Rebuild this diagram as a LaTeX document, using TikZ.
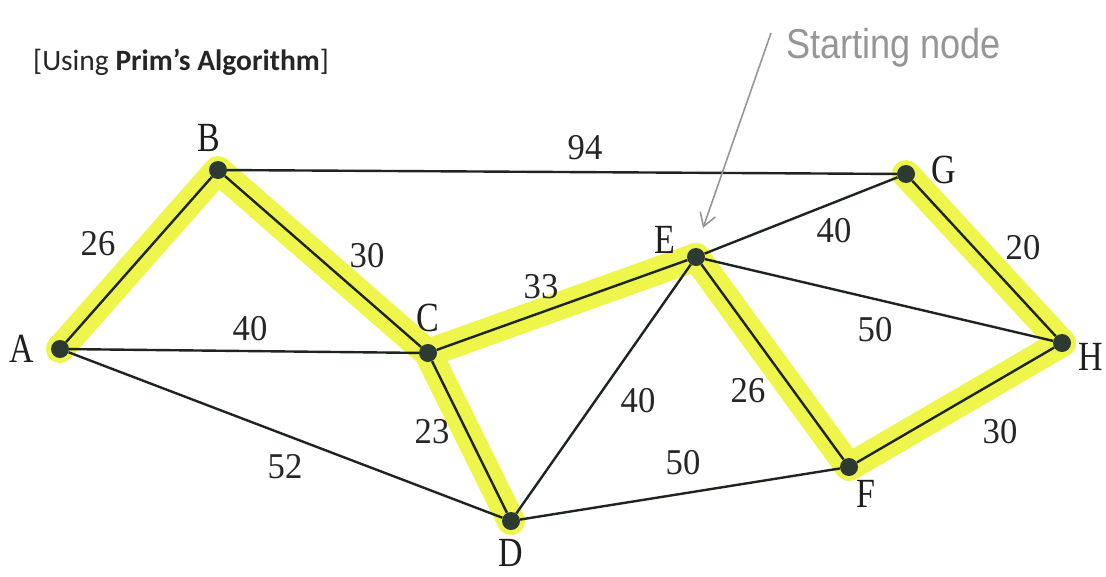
\documentclass[tikz,border=0pt]{standalone}
\usepackage{fontspec}
\usepackage{graphicx}
\setmainfont{Liberation Serif}
\newfontfamily\calfont{Carlito}
\newfontfamily\handfont{Liberation Sans}
\usetikzlibrary{arrows.meta}
\definecolor{hl}{RGB}{238,245,75}
\definecolor{vtx}{RGB}{45,58,50}
\definecolor{edg}{RGB}{30,36,30}
\definecolor{pencil}{RGB}{150,150,150}
\newcommand\tallx[1]{\scalebox{1}[1.22]{#1}}
\newcommand\tallw[1]{\scalebox{1.05}[1.1]{#1}}
\begin{document}
\begin{tikzpicture}[x=1pt,y=-1pt,
  vertex/.style={circle,fill=vtx,inner sep=0pt,minimum size=18pt},
  vname/.style={font=\fontsize{34}{34}\selectfont,text=black!88,inner sep=0pt},
  wt/.style={font=\fontsize{33}{33}\selectfont,text=black!85,inner sep=0pt},
  edge/.style={draw=edg,line width=2.4pt},
  glow/.style={draw=hl,line width=28pt,line cap=round,line join=round}]
\useasboundingbox[fill=white] (0,0) rectangle (1106,576);

% vertices
\node[vertex] (A) at (60,349) {};
\node[vertex] (B) at (218,170) {};
\node[vertex] (C) at (428,353) {};
\node[vertex] (D) at (511,521) {};
\node[vertex] (E) at (696,257) {};
\node[vertex] (F) at (849,467) {};
\node[vertex] (G) at (906,174) {};
\node[vertex] (H) at (1062,343) {};

% highlights
\draw[glow] (A.center) -- (B.center) -- (C.center) -- (E.center);
\draw[glow] (C.center) -- (D.center);
\draw[glow] (E.center) -- (F.center) -- (H.center) -- (G.center);

% edges
\draw[edge] (A) -- (B);
\draw[edge] (B) -- (C);
\draw[edge] (A) -- (C);
\draw[edge] (A) -- (D);
\draw[edge] (B) -- (G);
\draw[edge] (C) -- (E);
\draw[edge] (C) -- (D);
\draw[edge] (D) -- (E);
\draw[edge] (D) -- (F);
\draw[edge] (E) -- (F);
\draw[edge] (E) -- (G);
\draw[edge] (E) -- (H);
\draw[edge] (G) -- (H);
\draw[edge] (F) -- (H);

% redraw vertices on top
\foreach \v in {A,B,C,D,E,F,G,H}
  \fill[vtx] (\v.center) circle (9pt);

% vertex names
\node[vname] (lA) at (22,349) {\tallx{A}};
\node[vname] (lB) at (209,138) {\tallx{B}};
\node[vname] (lC) at (428,318) {\tallx{C}};
\node[vname] (lD) at (511,553) {\tallx{D}};
\node[vname] (lE) at (665,240) {\tallx{E}};
\node[vname] (lF) at (866,494) {\tallx{F}};
\node[vname] (lG) at (944,170) {\tallx{G}};
\node[vname] (lH) at (1091,357) {\tallx{H}};

% weights
\node[wt] (wAB) at (98,244) {\tallw{26}};
\node[wt] (wBC) at (367,256) {\tallw{30}};
\node[wt] (wAC) at (250,329) {\tallw{40}};
\node[wt] (wBG) at (585,148) {\tallw{94}};
\node[wt] (wCE) at (541,287) {\tallw{33}};
\node[wt] (wCD) at (432,432) {\tallw{23}};
\node[wt] (wAD) at (285,467) {\tallw{52}};
\node[wt] (wDE) at (638,401) {\tallw{40}};
\node[wt] (wEF) at (748,391) {\tallw{26}};
\node[wt] (wDF) at (683,463) {\tallw{50}};
\node[wt] (wEG) at (834,231) {\tallw{40}};
\node[wt] (wEH) at (875,330) {\tallw{50}};
\node[wt] (wGH) at (1023,248) {\tallw{20}};
\node[wt] (wFH) at (1000,432) {\tallw{30}};

% subtitle
\node[anchor=west,inner sep=0pt,text=black!85,font=\calfont\fontsize{29.5}{30}\selectfont] (sub) at (33,62) {[Using \textbf{Prim’s Algorithm}]};

% handwritten note
\node[anchor=base west,inner sep=0pt,text=pencil,font=\handfont\fontsize{38}{38}\selectfont] (note) at (786,58) {\scalebox{0.95}[1.1]{Starting node}};
\coordinate (tail) at (771,33);
\coordinate (tip) at (703,228);
\draw[pencil,line width=1.6pt,-{Straight Barb[length=13pt,width=16pt]}] (tail) -- (tip);
\end{tikzpicture}
\end{document}
